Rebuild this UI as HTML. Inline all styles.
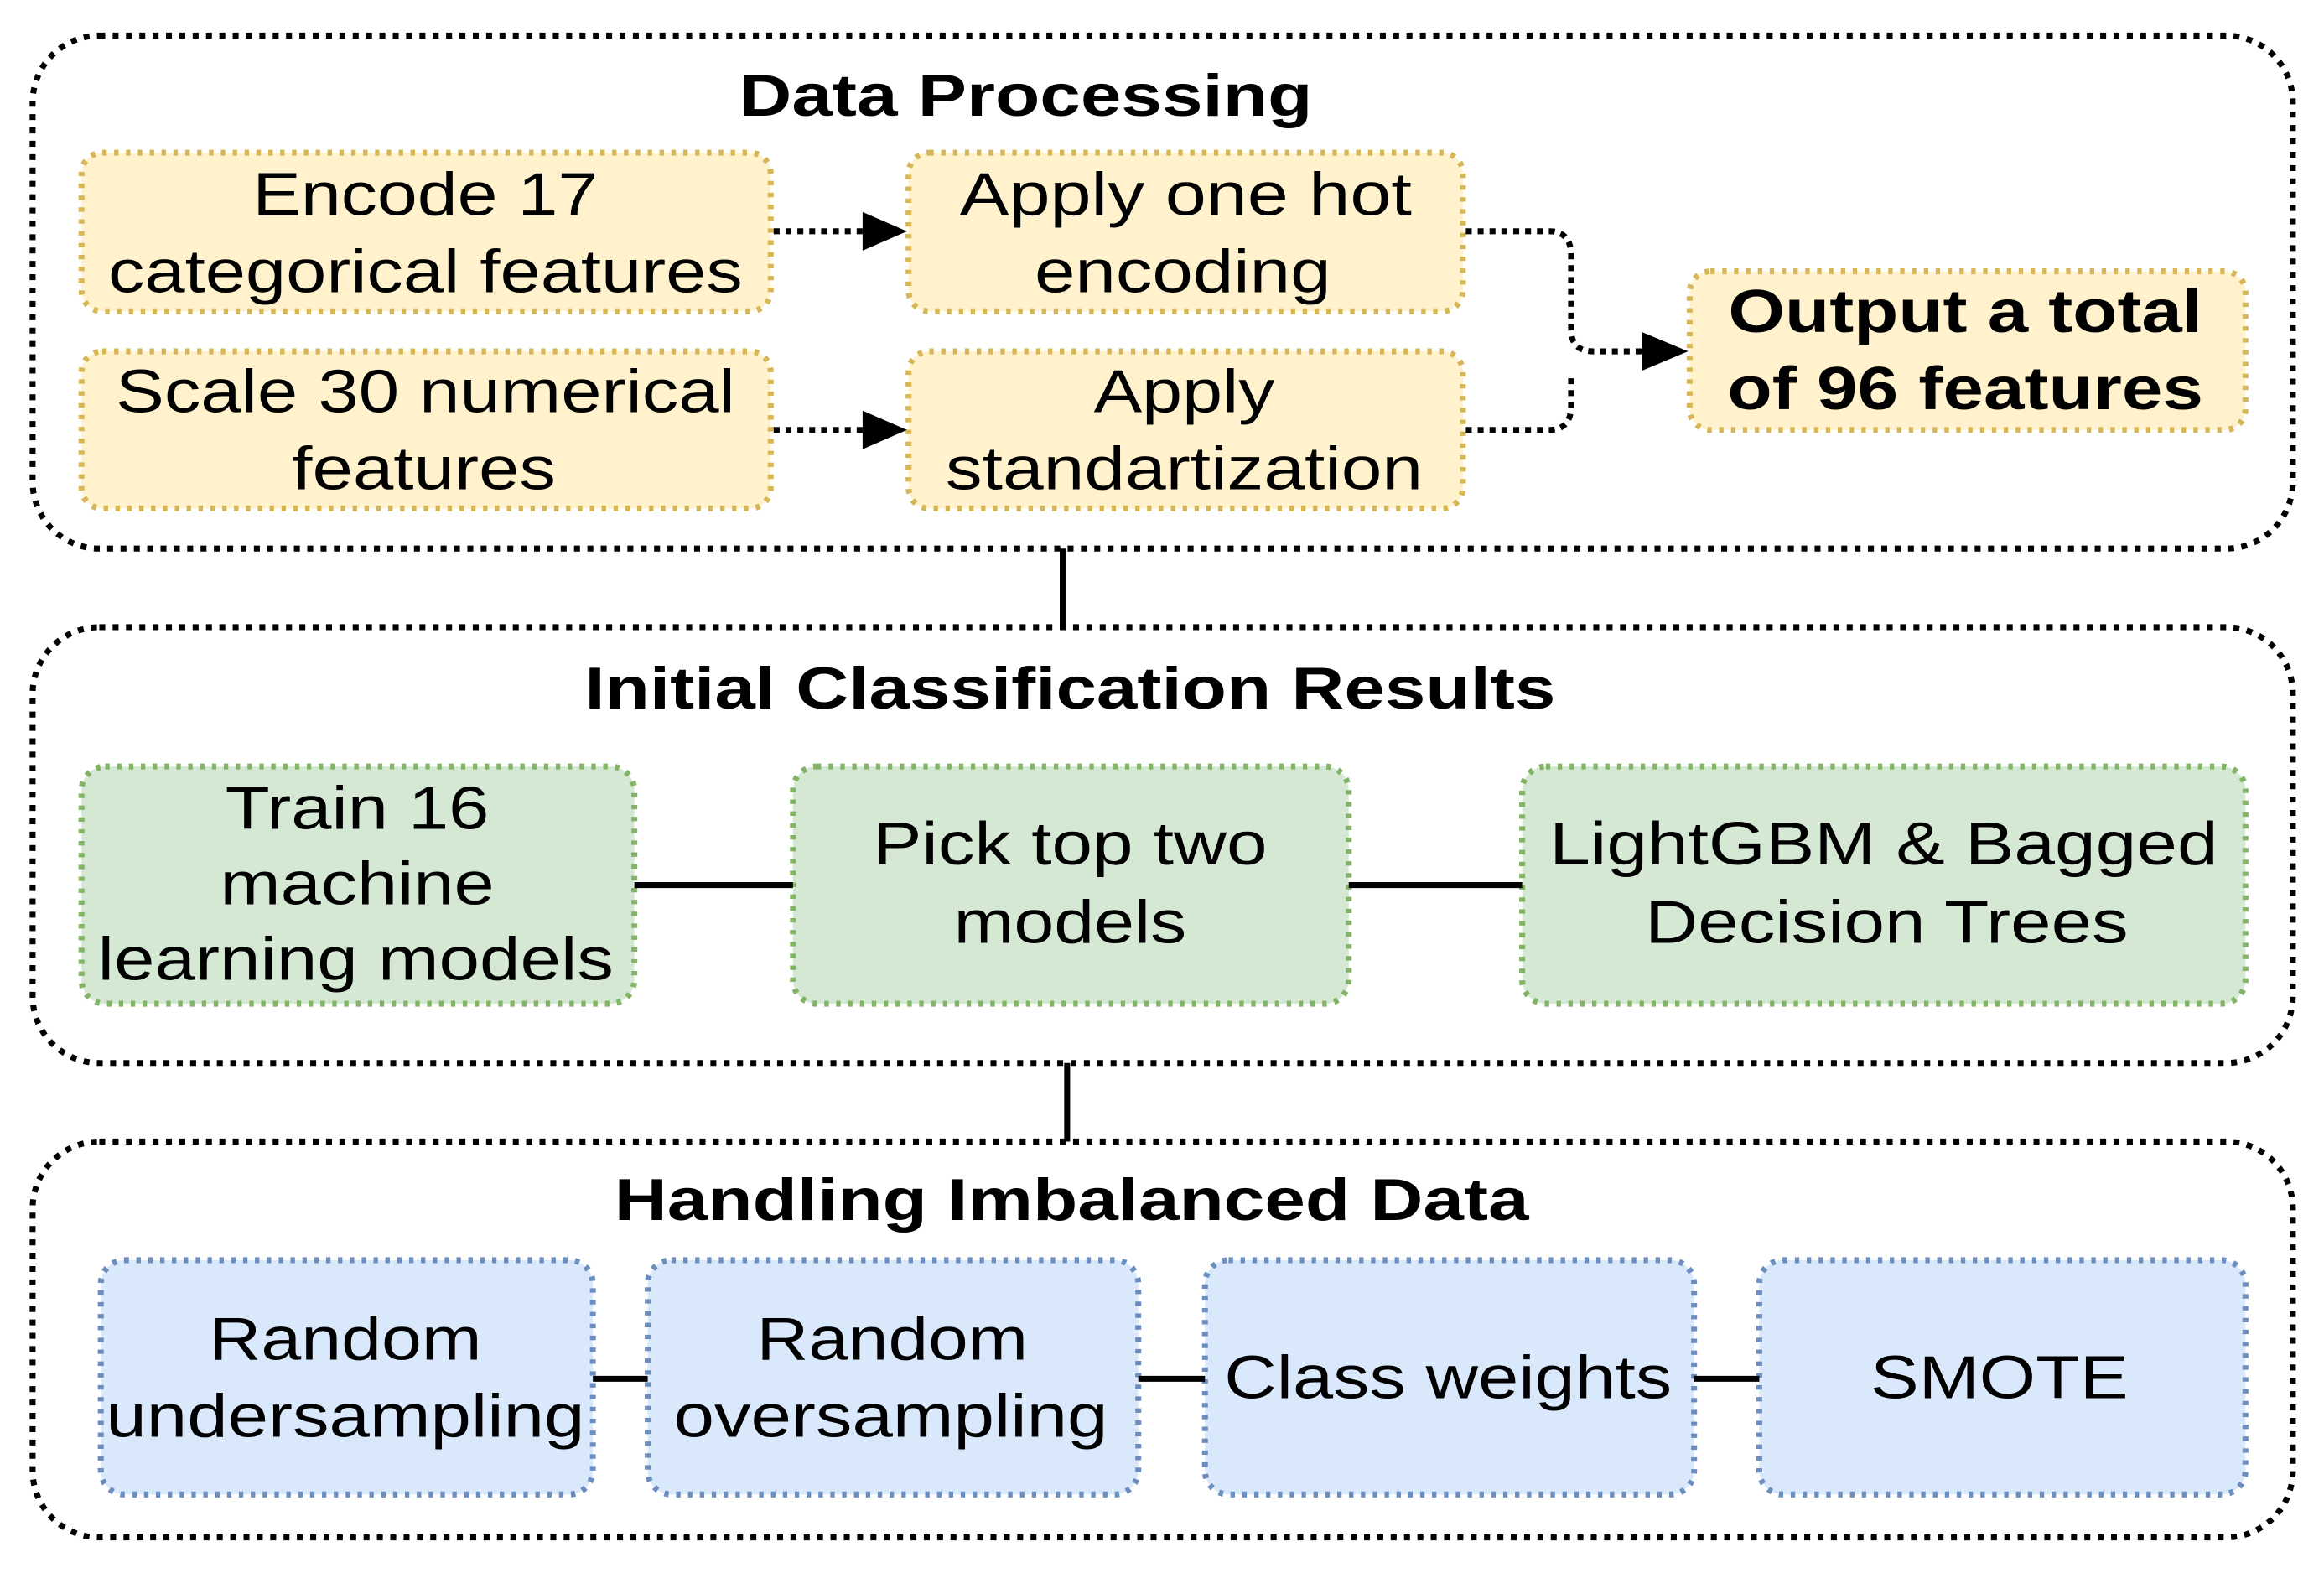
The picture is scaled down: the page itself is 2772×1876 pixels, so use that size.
<!DOCTYPE html>
<html><head><meta charset="utf-8"><style>
html,body{margin:0;padding:0;background:#fff;}
svg{display:block;}
text{font-family:"Liberation Sans",Arial,sans-serif;text-anchor:middle;fill:#000;}
.t{font-size:40px;font-weight:bold;}
.n{font-size:41px;}
.b{font-size:41px;font-weight:bold;}
.outer{fill:none;stroke:#000;stroke-width:4;stroke-dasharray:4 5;}
.y{fill:#fff2cc;stroke:#d6b656;stroke-width:4;stroke-dasharray:3 5;}
.g{fill:#d5e8d4;stroke:#82b366;stroke-width:4;stroke-dasharray:3 5;}
.bl{fill:#dae8fc;stroke:#6c8ebf;stroke-width:4;stroke-dasharray:3 5;}
.dl{fill:none;stroke:#000;stroke-width:4;stroke-dasharray:4 4;}
.sl{stroke:#000;stroke-width:4;}
</style></head><body>
<svg width="2772" height="1876" viewBox="0 0 1568 1061" preserveAspectRatio="none">
<!-- Box 1 -->
<rect class="outer" x="22" y="24" width="1525" height="346" rx="45"/>
<text class="t" x="692" y="78" textLength="387" lengthAdjust="spacingAndGlyphs">Data Processing</text>
<rect class="y" x="55" y="103" width="465" height="107" rx="14"/>
<text class="n" x="287" y="145" textLength="233" lengthAdjust="spacingAndGlyphs">Encode 17</text>
<text class="n" x="287" y="197" textLength="428" lengthAdjust="spacingAndGlyphs">categorical features</text>
<rect class="y" x="55" y="237" width="465" height="106" rx="14"/>
<text class="n" x="287" y="278" textLength="418" lengthAdjust="spacingAndGlyphs">Scale 30 numerical</text>
<text class="n" x="286" y="330" textLength="178" lengthAdjust="spacingAndGlyphs">features</text>
<rect class="y" x="613" y="103" width="374" height="107" rx="14"/>
<text class="n" x="800" y="145" textLength="305" lengthAdjust="spacingAndGlyphs">Apply one hot</text>
<text class="n" x="798" y="197" textLength="200" lengthAdjust="spacingAndGlyphs">encoding</text>
<rect class="y" x="613" y="237" width="374" height="106" rx="14"/>
<text class="n" x="799" y="278" textLength="122" lengthAdjust="spacingAndGlyphs">Apply</text>
<text class="n" x="799" y="330" textLength="322" lengthAdjust="spacingAndGlyphs">standartization</text>
<rect class="y" x="1140" y="183" width="375" height="107" rx="14"/>
<text class="b" x="1326" y="224" textLength="320" lengthAdjust="spacingAndGlyphs">Output a total</text>
<text class="b" x="1326" y="276" textLength="321" lengthAdjust="spacingAndGlyphs">of 96 features</text>
<line class="dl" x1="522" y1="156" x2="585" y2="156"/>
<polygon points="582,143 612,156 582,169" fill="#000"/>
<line class="dl" x1="522" y1="290" x2="585" y2="290"/>
<polygon points="582,277 612,290 582,303" fill="#000"/>
<path class="dl" d="M989,156 H1045 Q1060,156 1060,172 V222 Q1060,237 1075,237 H1110"/>
<path class="dl" d="M989,290 H1045 Q1060,290 1060,274 V252"/>
<polygon points="1108,224 1139,237 1108,250" fill="#000"/>
<line class="sl" x1="717" y1="370" x2="717" y2="423"/>
<!-- Box 2 -->
<rect class="outer" x="22" y="423" width="1525" height="294" rx="45"/>
<text class="t" x="722" y="478" textLength="655" lengthAdjust="spacingAndGlyphs">Initial Classification Results</text>
<rect class="g" x="55" y="517" width="373" height="160" rx="16"/>
<text class="n" x="241" y="559" textLength="178" lengthAdjust="spacingAndGlyphs">Train 16</text>
<text class="n" x="241" y="610" textLength="185" lengthAdjust="spacingAndGlyphs">machine</text>
<text class="n" x="240" y="661" textLength="348" lengthAdjust="spacingAndGlyphs">learning models</text>
<rect class="g" x="535" y="517" width="375" height="160" rx="16"/>
<text class="n" x="722" y="583" textLength="266" lengthAdjust="spacingAndGlyphs">Pick top two</text>
<text class="n" x="722" y="636" textLength="157" lengthAdjust="spacingAndGlyphs">models</text>
<rect class="g" x="1027" y="517" width="488" height="160" rx="16"/>
<text class="n" x="1271" y="583" textLength="451" lengthAdjust="spacingAndGlyphs">LightGBM &amp; Bagged</text>
<text class="n" x="1273" y="636" textLength="326" lengthAdjust="spacingAndGlyphs">Decision Trees</text>
<line class="sl" x1="428" y1="597" x2="535" y2="597"/>
<line class="sl" x1="910" y1="597" x2="1027" y2="597"/>
<line class="sl" x1="720" y1="717" x2="720" y2="770"/>
<!-- Box 3 -->
<rect class="outer" x="22" y="770" width="1525" height="267" rx="45"/>
<text class="t" x="723" y="823" textLength="617" lengthAdjust="spacingAndGlyphs">Handling Imbalanced Data</text>
<rect class="bl" x="68" y="850" width="332" height="158" rx="16"/>
<text class="n" x="233" y="917" textLength="184" lengthAdjust="spacingAndGlyphs">Random</text>
<text class="n" x="233" y="969" textLength="323" lengthAdjust="spacingAndGlyphs">undersampling</text>
<rect class="bl" x="437" y="850" width="331" height="158" rx="16"/>
<text class="n" x="602" y="917" textLength="183" lengthAdjust="spacingAndGlyphs">Random</text>
<text class="n" x="601" y="969" textLength="293" lengthAdjust="spacingAndGlyphs">oversampling</text>
<rect class="bl" x="813" y="850" width="330" height="158" rx="16"/>
<text class="n" x="977" y="943" textLength="302" lengthAdjust="spacingAndGlyphs">Class weights</text>
<rect class="bl" x="1187" y="850" width="328" height="158" rx="16"/>
<text class="n" x="1349" y="943" textLength="174" lengthAdjust="spacingAndGlyphs">SMOTE</text>
<line class="sl" x1="400" y1="930" x2="437" y2="930"/>
<line class="sl" x1="768" y1="930" x2="813" y2="930"/>
<line class="sl" x1="1143" y1="930" x2="1187" y2="930"/>
</svg>
</body></html>
